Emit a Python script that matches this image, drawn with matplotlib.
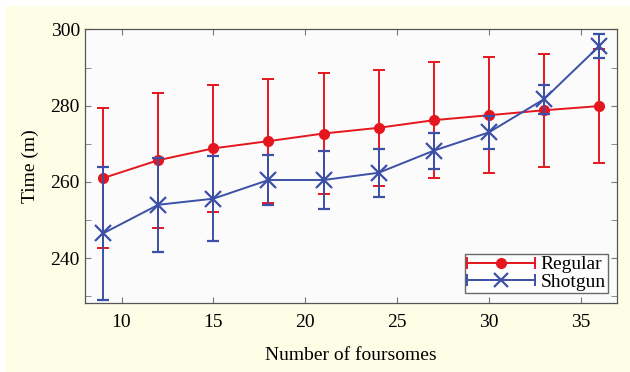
import numpy as np
import matplotlib.pyplot as plt
from matplotlib.patches import Rectangle
from matplotlib.lines import Line2D
from matplotlib.legend_handler import HandlerBase

# data
foursomes = [9, 12, 15, 18, 21, 24, 27, 30, 33, 36]
regular_mean = [261.0, 265.7, 268.8, 270.7, 272.7, 274.2, 276.2, 277.5, 278.8, 279.9]
regular_err = [18.3, 17.7, 16.6, 16.2, 15.8, 15.3, 15.3, 15.2, 14.8, 14.9]
shotgun_mean = [246.5, 254.0, 255.6, 260.5, 260.5, 262.4, 268.2, 273.0, 281.7, 295.6]
shotgun_err = [17.4, 12.3, 11.1, 6.5, 7.5, 6.3, 4.7, 4.4, 3.8, 3.2]

red = '#e5161e'
blue = '#3b50a6'


class HBarHandler(HandlerBase):
    # matlab style legend entry: horizontal line, end caps, marker in the middle
    def create_artists(self, legend, orig, xd, yd, w, h, fontsize, trans):
        y = h / 2 - yd
        c = orig.get_color()
        line = Line2D([-xd, w - xd], [y, y], color=c, lw=orig.get_linewidth())
        caps = Line2D([-xd, w - xd], [y, y], color=c, linestyle='none',
                      marker='|', markersize=9, markeredgewidth=1.4)
        mk = Line2D([w / 2 - xd], [y], color=c, linestyle='none',
                    marker=orig.get_marker(), markersize=orig.get_markersize(),
                    markeredgewidth=orig.get_markeredgewidth())
        for a in (line, caps, mk):
            a.set_transform(trans)
        return [line, caps, mk]


plt.rcParams['font.family'] = ['Liberation Serif', 'DejaVu Serif']

fig = plt.figure(figsize=(6.3, 3.72), dpi=100, facecolor='white')
# pale yellow panel behind the plot
fig.patches.append(Rectangle((0.008, 0.0), 0.992, 0.985, transform=fig.transFigure,
                             facecolor='#fefde6', edgecolor='none', zorder=-10))

ax = fig.add_axes([0.1346, 0.1863, 0.8454, 0.7344])
ax.set_facecolor('#fbfbfb')

ax.errorbar(foursomes, regular_mean, yerr=regular_err, color=red, marker='o',
            markersize=7, linewidth=1.4, elinewidth=1.4, capsize=4, capthick=1.4,
            zorder=2)
ax.errorbar(foursomes, shotgun_mean, yerr=shotgun_err, color=blue, marker='x',
            markersize=11, markeredgewidth=1.6, linewidth=1.4, elinewidth=1.4,
            capsize=4, capthick=1.4, zorder=3)

ax.set_xlim(8, 37)
ax.set_ylim(228.3, 300)
ax.set_xticks([10, 15, 20, 25, 30, 35])
ax.set_yticks([240, 260, 280, 300])
ax.set_yticks([230, 250, 270, 290], minor=True)
ax.tick_params(which='both', direction='in', top=True, right=True,
               color='#777777', labelsize=14, length=4)
ax.tick_params(axis='x', pad=8)
for s in ax.spines.values():
    s.set_color('#555555')
    s.set_linewidth(0.9)

ax.set_xlabel('Number of foursomes', fontsize=14, labelpad=12)
ax.set_ylabel('Time (m)', fontsize=14, labelpad=8)

h_reg = Line2D([], [], color=red, marker='o', markersize=7, lw=1.4)
h_shot = Line2D([], [], color=blue, marker='x', markersize=10, markeredgewidth=1.6, lw=1.4)
leg = ax.legend([h_reg, h_shot], ['Regular', 'Shotgun'], loc='lower right',
                handler_map={Line2D: HBarHandler()}, fontsize=14, frameon=True,
                fancybox=False, edgecolor='#444444', handlelength=3.5, borderpad=0.1,
                labelspacing=0.0, handletextpad=0.3, borderaxespad=0.5)
leg.get_frame().set_linewidth(1.0)

fig.savefig('out.png', dpi=100, facecolor=fig.get_facecolor())
